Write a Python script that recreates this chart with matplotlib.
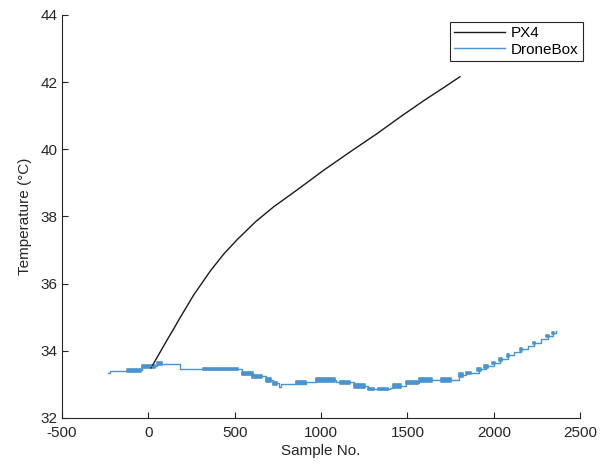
import matplotlib
matplotlib.use('Agg')
import matplotlib.pyplot as plot
import numpy as np

plot.rcParams['font.family'] = ['Liberation Sans', 'DejaVu Sans']
plot.rcParams['axes.unicode_minus'] = False

# PX4 temperature
px4_sample = [15, 31, 108, 147, 185, 263, 359, 436, 514, 620, 726, 861, 1016, 1170, 1325, 1460, 1595, 1711, 1804]
px4_temp = [33.49, 33.63, 34.32, 34.66, 35.0, 35.67, 36.38, 36.88, 37.31, 37.84, 38.29, 38.79, 39.38,
            39.93, 40.47, 40.97, 41.45, 41.84, 42.16]

# DroneBox temperature, step levels (sample where the level starts)
box_sample = [-232, -225, -122, -35, 52, 90, 180, 320, 539, 610, 678, 724, 759, 770, 915, 973, 1085,
              1188, 1269, 1400, 1414, 1489, 1565, 1796, 1837, 1912, 1953, 1999, 2039, 2080, 2115,
              2155, 2196, 2231, 2271, 2312, 2341, 2358]
box_temp = [33.34, 33.40, 33.42, 33.54, 33.62, 33.60, 33.46, 33.47, 33.32, 33.24, 33.13, 33.03, 32.92,
            33.02, 33.07, 33.13, 33.08, 32.95, 32.86, 32.90, 32.95, 33.05, 33.13, 33.28, 33.35, 33.46,
            33.55, 33.65, 33.75, 33.87, 33.96, 34.05, 34.15, 34.24, 34.34, 34.45, 34.54, 34.59]

# DroneBox stretches where the reading flickers between two levels
flick_start = [-122, -35, 52, 318, 539, 597, 678, 724, 857, 973, 1112, 1188, 1269, 1327, 1414, 1489,
               1565, 1692, 1796, 1837, 1905, 1945, 1990, 2030, 2075, 2150, 2225, 2305, 2335]
flick_end = [-41, 40, 81, 521, 608, 660, 707, 742, 915, 1078, 1170, 1257, 1304, 1390, 1460, 1559,
             1640, 1750, 1820, 1870, 1925, 1965, 2010, 2050, 2090, 2165, 2240, 2320, 2350]
flick_low = [33.37, 33.50, 33.58, 33.42, 33.28, 33.19, 33.07, 32.98, 33.0, 33.08, 33.0, 32.9, 32.83,
             32.83, 32.9, 33.0, 33.07, 33.08, 33.22, 33.30, 33.40, 33.50, 33.60, 33.70, 33.82, 34.0,
             34.2, 34.4, 34.5]
flick_high = [33.46, 33.58, 33.66, 33.50, 33.37, 33.28, 33.19, 33.07, 33.1, 33.19, 33.1, 33.0, 32.9,
              32.9, 33.0, 33.1, 33.19, 33.19, 33.34, 33.38, 33.48, 33.58, 33.68, 33.78, 33.9, 34.08,
              34.27, 34.48, 34.57]

blue = '#4a93d1'
grey = '#262626'

fig = plot.figure(figsize=(6.03, 4.68), dpi=100)
ax = fig.add_axes([0.103, 0.107, 0.859, 0.861])

ax.plot(px4_sample, px4_temp, color='#1a1a1a', lw=1.0, label='PX4')
ax.plot(box_sample, box_temp, color=blue, lw=1.0, drawstyle='steps-post', label='DroneBox')
for x0, x1, lo, hi in zip(flick_start, flick_end, flick_low, flick_high):
    ax.fill_between([x0, x1], [lo, lo], [hi, hi], facecolor=blue, edgecolor=blue, lw=1.2)

ax.set_xlim(-500, 2500)
ax.set_ylim(32, 44)
ax.set_xticks(np.arange(-500, 2501, 500))
ax.set_yticks(np.arange(32, 45, 2))
ax.spines['top'].set_visible(False)
ax.spines['right'].set_visible(False)
for s in ['left', 'bottom']:
    ax.spines[s].set_color(grey)
    ax.spines[s].set_linewidth(0.8)
ax.tick_params(direction='in', length=4, colors=grey, labelsize=11, width=0.8)
ax.tick_params(axis='x', pad=6)
ax.set_xlabel('Sample No.', fontsize=11, color=grey, labelpad=3)
ax.set_ylabel('Temperature (°C)', fontsize=11, color=grey, labelpad=6)

leg = ax.legend(loc='upper right', bbox_to_anchor=(1.006, 0.983), fontsize=11, fancybox=False,
                framealpha=1, edgecolor=grey, borderpad=0.3, labelspacing=0.15,
                handlelength=3.3, handletextpad=0.4, borderaxespad=0)
leg.get_frame().set_linewidth(0.8)

plot.savefig('out.png', dpi=100)
